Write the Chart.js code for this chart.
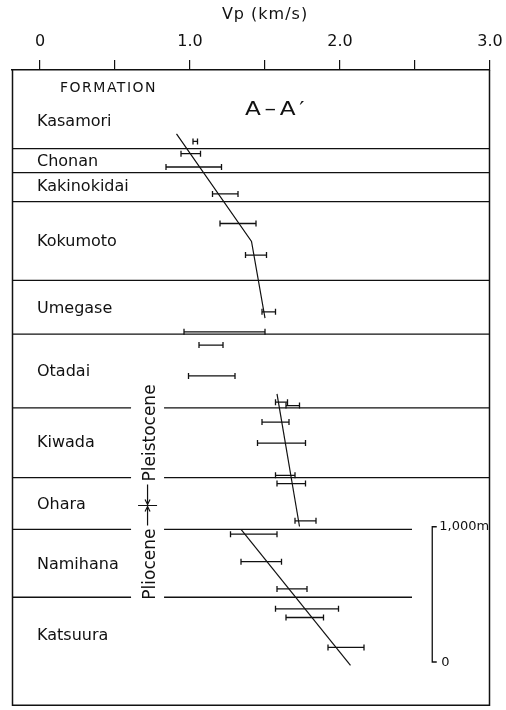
<!DOCTYPE html>
<html>
<head>
<meta charset="utf-8">
<script src="https://cdn.jsdelivr.net/npm/chart.js@4.4.1/dist/chart.umd.min.js"></script>
<style>
  html, body { margin: 0; padding: 0; background: #fff; }
  #wrap { width: 506px; height: 710px; position: relative; }
</style>
</head>
<body>
<div id="wrap"><canvas id="c" width="506" height="710"></canvas></div>
<script>
// Formation names and the depth (m below the top of the section) where each is lettered
const formationNames = ['Kasamori', 'Chonan', 'Kakinokidai', 'Kokumoto', 'Umegase',
                        'Otadai', 'Kiwada', 'Ohara', 'Namihana', 'Katsuura'];
const formationLabelDepths = [383, 678, 862, 1267, 1769, 2233, 2756, 3213, 3655, 4186];

// Formation contacts (m)
const contactDepths = [582, 759, 973, 1555, 1953, 2498, 3014, 3397, 3898];

// Velocity measurements: depth (m) and Vp range (km/s)
const sampleDepths = [528, 619, 717, 916, 1135, 1368, 1788, 1936, 2034, 2262, 2456, 2481,
                      2603, 2758, 2997, 3058, 3333, 3432, 3635, 3837, 3984, 4048, 4269];
const vpMin = [1.02, 0.94, 0.84, 1.15, 1.20, 1.37, 1.48, 0.96, 1.06, 0.99, 1.57, 1.64,
               1.48, 1.45, 1.57, 1.58, 1.70, 1.27, 1.34, 1.58, 1.57, 1.64, 1.92];
const vpMax = [1.05, 1.07, 1.21, 1.32, 1.44, 1.51, 1.57, 1.50, 1.22, 1.30, 1.65, 1.73,
               1.66, 1.77, 1.70, 1.77, 1.84, 1.58, 1.61, 1.78, 1.99, 1.89, 2.16];

// Velocity trends
const trendUpperVp = [0.91, 1.41, 1.50];
const trendUpperDepth = [472, 1267, 1835];
const trendMiddleVp = [1.58, 1.73];
const trendMiddleDepth = [2395, 3375];
const trendLowerVp = [1.34, 2.07];
const trendLowerDepth = [3397, 4402];

// Top axis
const vpTicks = [0, 0.5, 1.0, 1.5, 2.0, 2.5, 3.0];
const vpTickLabels = ['0', '', '1.0', '', '2.0', '', '3.0'];

// Pleistocene / Pliocene boundary (m)
const epochBoundaryDepth = 3220;

// Vertical scale bar (m)
const scaleBarTopDepth = 3377;
const scaleBarLength = 1000;

const X_MIN = -0.1867, X_MAX = 3.0;
const DEPTH_MAX = 4700;
const EPOCH_X = 0.717, EPOCH_GAP = 0.11;   // column holding the epoch names
const SHORT_CONTACT_END = 2.48;             // contacts stop short of the scale bar
const SCALE_X = 2.615;
const INK = '#111';
const FONT = '"DejaVu Sans", sans-serif';

function segment(points, width) {
  return {
    data: points, borderColor: INK, borderWidth: width,
    pointRadius: 0, pointHoverRadius: 0, fill: false, tension: 0
  };
}

const datasets = [];

// contacts between formations
contactDepths.forEach(d => {
  const right = d > scaleBarTopDepth - 200 ? SHORT_CONTACT_END : X_MAX;
  const spans = Math.abs(d - epochBoundaryDepth) < 1000
    ? [[X_MIN, EPOCH_X - EPOCH_GAP], [EPOCH_X + EPOCH_GAP, right]]
    : [[X_MIN, right]];
  spans.forEach(([a, b]) => datasets.push(segment([{ x: a, y: d }, { x: b, y: d }], 1.3)));
});

// trend lines
[[trendUpperVp, trendUpperDepth], [trendMiddleVp, trendMiddleDepth], [trendLowerVp, trendLowerDepth]]
  .forEach(([vs, ds]) => datasets.push(segment(vs.map((v, i) => ({ x: v, y: ds[i] })), 1.2)));

// velocity ranges with end caps
sampleDepths.forEach((d, i) => datasets.push({
  data: [{ x: vpMin[i], y: d }, { x: vpMax[i], y: d }],
  borderColor: INK, borderWidth: 1.3, fill: false,
  pointStyle: 'line', rotation: 90, pointRadius: 3, pointHoverRadius: 3,
  pointBorderColor: INK, pointBorderWidth: 1.3
}));

const annotate = {
  id: 'annotate',
  afterDraw(chart) {
    const { ctx, chartArea: a, scales: { x, y } } = chart;
    ctx.save();
    ctx.fillStyle = INK;
    ctx.strokeStyle = INK;

    // frame (top edge is the axis line)
    ctx.lineWidth = 1.5;
    ctx.beginPath();
    ctx.moveTo(a.left + 0.5, a.top);
    ctx.lineTo(a.left + 0.5, a.bottom - 0.5);
    ctx.lineTo(a.right - 0.5, a.bottom - 0.5);
    ctx.lineTo(a.right - 0.5, a.top);
    ctx.stroke();

    // axis title
    ctx.font = '16px ' + FONT;
    ctx.textAlign = 'center';
    ctx.textBaseline = 'middle';
    ctx.letterSpacing = '1px';
    ctx.fillText('Vp (km/s)', x.getPixelForValue(1.5), 15);
    ctx.letterSpacing = '0px';

    // column header
    ctx.textAlign = 'left';
    ctx.font = '14px ' + FONT;
    ctx.letterSpacing = '1.5px';
    ctx.fillText('FORMATION', a.left + 48, a.top + 18);

    // section name
    ctx.save();
    ctx.translate(a.left + 233, a.top + 40);
    ctx.scale(1.22, 1);
    ctx.font = '19px ' + FONT;
    ctx.letterSpacing = '3px';
    ctx.fillText('A\u2013A\u2032', 0, 0);
    ctx.restore();
    ctx.letterSpacing = '0px';

    // formation names
    ctx.font = '16px ' + FONT;
    formationNames.forEach((n, i) => {
      ctx.fillText(n, a.left + 25, y.getPixelForValue(formationLabelDepths[i]));
    });

    // epoch names and boundary marker
    const ex = x.getPixelForValue(EPOCH_X);
    const ey = y.getPixelForValue(epochBoundaryDepth);
    ctx.font = '17px ' + FONT;
    ctx.textBaseline = 'alphabetic';
    ctx.save();
    ctx.translate(ex + 7, ey - 24);
    ctx.rotate(-Math.PI / 2);
    ctx.textAlign = 'left';
    ctx.fillText('Pleistocene', 0, 0);
    ctx.restore();
    ctx.save();
    ctx.translate(ex + 7, ey + 23);
    ctx.rotate(-Math.PI / 2);
    ctx.textAlign = 'right';
    ctx.fillText('Pliocene', 0, 0);
    ctx.restore();
    ctx.textBaseline = 'middle';

    ctx.lineWidth = 1.2;
    ctx.beginPath();
    ctx.moveTo(ex - 9.5, ey); ctx.lineTo(ex + 9.5, ey);
    ctx.moveTo(ex, ey - 21); ctx.lineTo(ex, ey - 1);
    ctx.moveTo(ex, ey + 20); ctx.lineTo(ex, ey + 1);
    ctx.stroke();
    ctx.beginPath();
    ctx.moveTo(ex - 2.5, ey - 6); ctx.lineTo(ex, ey - 1); ctx.lineTo(ex + 2.5, ey - 6);
    ctx.moveTo(ex - 2.5, ey + 6); ctx.lineTo(ex, ey + 1); ctx.lineTo(ex + 2.5, ey + 6);
    ctx.stroke();

    // 1,000 m scale bar
    const sx = x.getPixelForValue(SCALE_X);
    const sTop = y.getPixelForValue(scaleBarTopDepth);
    const sBot = y.getPixelForValue(scaleBarTopDepth + scaleBarLength);
    ctx.lineWidth = 1.3;
    ctx.beginPath();
    ctx.moveTo(sx + 4.5, sTop); ctx.lineTo(sx, sTop);
    ctx.lineTo(sx, sBot); ctx.lineTo(sx + 4.5, sBot);
    ctx.stroke();
    ctx.font = '13px ' + FONT;
    ctx.textAlign = 'left';
    ctx.fillText((scaleBarLength).toLocaleString('en-US') + 'm', sx + 7, sTop);
    ctx.fillText('0', sx + 9, sBot + 1);

    ctx.restore();
  }
};

new Chart(document.getElementById('c'), {
  type: 'line',
  data: { datasets },
  options: {
    responsive: false,
    animation: false,
    devicePixelRatio: 1,
    events: [],
    layout: { padding: { left: 12, right: 16, top: 0, bottom: 2 } },
    plugins: { legend: { display: false }, tooltip: { enabled: false } },
    scales: {
      x: {
        type: 'linear', position: 'top', min: X_MIN, max: X_MAX,
        afterBuildTicks: s => { s.ticks = vpTicks.map(v => ({ value: v })); },
        afterFit: s => { s.height = 70; s.paddingLeft = 0; s.paddingRight = 0; },
        ticks: {
          autoSkip: false, maxRotation: 0, padding: 9, color: INK,
          font: { family: 'DejaVu Sans', size: 16 },
          callback: v => vpTickLabels[vpTicks.indexOf(v)] ?? ''
        },
        grid: { drawOnChartArea: false, drawTicks: true, tickLength: 10, color: INK, lineWidth: 1.2 },
        border: { display: true, color: INK, width: 1.5 }
      },
      y: { type: 'linear', reverse: true, min: 0, max: DEPTH_MAX, display: false }
    }
  },
  plugins: [annotate]
});
</script>
</body>
</html>
